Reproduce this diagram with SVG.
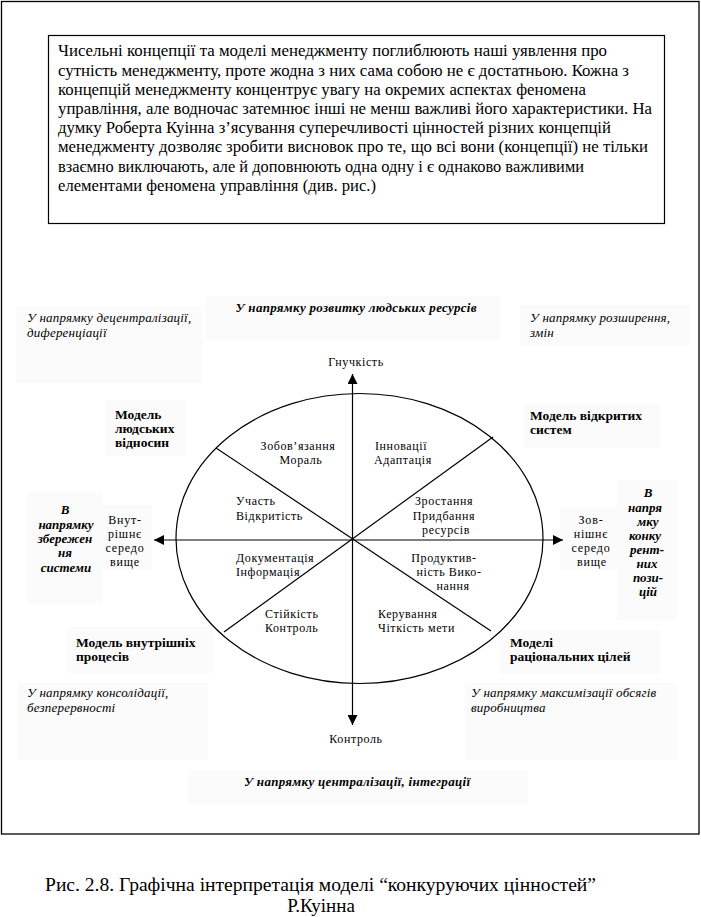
<svg xmlns="http://www.w3.org/2000/svg" width="701" height="917" viewBox="0 0 701 917">
<style>
  .body { font-family: "Liberation Serif", "DejaVu Serif", serif; font-size: 16px; fill: #000; }
  .lab { font-family: "Liberation Serif", "DejaVu Serif", serif; font-size: 12px; letter-spacing: 0.6px; fill: #000; }
  .side { font-family: "Liberation Serif", "DejaVu Serif", serif; font-size: 12px; letter-spacing: 0.8px; fill: #000; }
  .bold { font-family: "Liberation Serif", "DejaVu Serif", serif; font-size: 13.5px; font-weight: bold; fill: #000; }
  .it { font-family: "Liberation Serif", "DejaVu Serif", serif; font-size: 13px; font-style: italic; letter-spacing: 0.2px; fill: #000; }
  .bi { font-family: "Liberation Serif", "DejaVu Serif", serif; font-size: 13px; font-style: italic; font-weight: bold; fill: #000; }
  .cap { font-family: "Liberation Serif", "DejaVu Serif", serif; font-size: 19px; fill: #000; }
  .mid { text-anchor: middle; }
  .bg { fill: #fbfbfb; stroke: none; }
  .ln { stroke: #000; stroke-width: 1.2; fill: none; }
</style>
<defs>
  <marker id="arr" viewBox="0 0 10 10" refX="10" refY="5" markerWidth="10" markerHeight="10" markerUnits="userSpaceOnUse" orient="auto-start-reverse">
    <path d="M0,0 L10,5 L0,10 z" fill="#000"/>
  </marker>
</defs>
<rect x="0" y="0" width="701" height="917" fill="#fff"/>

<g id="background-panels">
  <rect class="bg" x="16" y="306" width="187" height="77"/>
  <rect class="bg" x="205" y="296" width="295" height="44"/>
  <rect class="bg" x="520" y="305" width="170" height="40"/>
  <rect class="bg" x="105" y="400" width="82" height="56"/>
  <rect class="bg" x="524" y="404" width="136" height="44"/>
  <rect class="bg" x="27" y="492" width="75" height="112"/>
  <rect class="bg" x="102" y="505" width="50" height="65"/>
  <rect class="bg" x="560" y="508" width="57" height="62"/>
  <rect class="bg" x="617" y="480" width="60" height="140"/>
  <rect class="bg" x="67" y="627" width="146" height="46"/>
  <rect class="bg" x="500" y="630" width="160" height="44"/>
  <rect class="bg" x="18" y="683" width="190" height="77"/>
  <rect class="bg" x="465" y="683" width="212" height="77"/>
  <rect class="bg" x="188" y="770" width="340" height="34"/>
</g>

<g id="frame">
  <rect x="1.5" y="1.5" width="697.5" height="832.5" fill="none" stroke="#000" stroke-width="1.3"/>
</g>

<g id="intro-box">
  <rect x="48.5" y="35.5" width="616" height="188" fill="#fff" stroke="#000" stroke-width="1.2"/>
  <text class="body" x="58" y="56" textLength="549" lengthAdjust="spacingAndGlyphs">Чисельні концепції та моделі менеджменту поглиблюють наші уявлення про</text>
  <text class="body" x="58" y="76" textLength="571" lengthAdjust="spacingAndGlyphs">сутність менеджменту, проте жодна з них сама собою не є достатньою. Кожна з</text>
  <text class="body" x="58" y="95" textLength="528" lengthAdjust="spacingAndGlyphs">концепцій менеджменту концентрує увагу на окремих аспектах феномена</text>
  <text class="body" x="58" y="114" textLength="594" lengthAdjust="spacingAndGlyphs">управління, але водночас затемнює інші не менш важливі його характеристики. На</text>
  <text class="body" x="58" y="133" textLength="553" lengthAdjust="spacingAndGlyphs">думку Роберта Куінна з’ясування суперечливості цінностей різних концепцій</text>
  <text class="body" x="58" y="152" textLength="590" lengthAdjust="spacingAndGlyphs">менеджменту дозволяє зробити висновок про те, що всі вони (концепції) не тільки</text>
  <text class="body" x="58" y="172" textLength="526" lengthAdjust="spacingAndGlyphs">взаємно виключають, але й доповнюють одна одну і є однаково важливими</text>
  <text class="body" x="58" y="191" textLength="318" lengthAdjust="spacingAndGlyphs">елементами феномена управління (див. рис.)</text>
</g>

<g id="model-ellipse">
  <ellipse class="ln" cx="359.5" cy="538.5" rx="183.5" ry="145"/>
  <line class="ln" x1="216" y1="448" x2="491" y2="631"/>
  <line class="ln" x1="493" y1="437" x2="224" y2="632"/>
</g>

<g id="connectors">
  <line class="ln" x1="352.5" y1="374" x2="352.5" y2="725" marker-start="url(#arr)" marker-end="url(#arr)"/>
  <line class="ln" x1="154" y1="540" x2="563" y2="540" marker-start="url(#arr)" marker-end="url(#arr)"/>
</g>

<g id="dir-human-resources">
  <text class="bi mid" x="356" y="312" textLength="241" lengthAdjust="spacing">У напрямку розвитку людських ресурсів</text>
</g>
<g id="dir-decentralization">
  <text class="it" x="27" y="322">У напрямку децентралізації,</text>
  <text class="it" x="27" y="337">диференціації</text>
</g>
<g id="dir-expansion">
  <text class="it" x="530" y="322">У напрямку розширення,</text>
  <text class="it" x="530" y="337">змін</text>
</g>
<g id="pole-flexibility">
  <text class="lab mid" x="356" y="366">Гнучкість</text>
</g>
<g id="model-human-relations">
  <text class="bold" x="115" y="419">Модель</text>
  <text class="bold" x="115" y="433">людських</text>
  <text class="bold" x="115" y="447">відносин</text>
</g>
<g id="model-open-systems">
  <text class="bold" x="530" y="420">Модель відкритих</text>
  <text class="bold" x="530" y="434">систем</text>
</g>
<g id="seg-commitment">
  <text class="lab mid" x="298" y="450">Зобов’язання</text>
  <text class="lab mid" x="301" y="464">Мораль</text>
</g>
<g id="seg-innovation">
  <text class="lab" x="375" y="450">Інновації</text>
  <text class="lab" x="374" y="464">Адаптація</text>
</g>
<g id="seg-participation">
  <text class="lab" x="236" y="505">Участь</text>
  <text class="lab" x="236" y="520">Відкритість</text>
</g>
<g id="seg-growth">
  <text class="lab mid" x="444" y="505">Зростання</text>
  <text class="lab mid" x="444" y="520">Придбання</text>
  <text class="lab mid" x="446" y="534">ресурсів</text>
</g>
<g id="seg-documentation">
  <text class="lab" x="236" y="562">Документація</text>
  <text class="lab" x="236" y="576">Інформація</text>
</g>
<g id="seg-productivity">
  <text class="lab mid" x="444" y="562">Продуктив-</text>
  <text class="lab mid" x="449" y="576">ність Вико-</text>
  <text class="lab mid" x="453" y="590">нання</text>
</g>
<g id="seg-stability">
  <text class="lab" x="265" y="618">Стійкість</text>
  <text class="lab" x="265" y="632">Контроль</text>
</g>
<g id="seg-direction">
  <text class="lab" x="378" y="618">Керування</text>
  <text class="lab" x="378" y="632">Чіткість мети</text>
</g>
<g id="dir-preservation">
  <text class="bi mid" x="65" y="514">В</text>
  <text class="bi mid" x="66" y="529">напрямку</text>
  <text class="bi mid" x="65" y="543">збережен</text>
  <text class="bi mid" x="65" y="557">ня</text>
  <text class="bi mid" x="66" y="572">системи</text>
</g>
<g id="env-internal">
  <text class="side mid" x="125" y="524">Внут-</text>
  <text class="side mid" x="125" y="538">рішнє</text>
  <text class="side mid" x="125" y="552">середо</text>
  <text class="side mid" x="125" y="566">вище</text>
</g>
<g id="env-external">
  <text class="side mid" x="591" y="524">Зов-</text>
  <text class="side mid" x="591" y="538">нішнє</text>
  <text class="side mid" x="591" y="552">середо</text>
  <text class="side mid" x="592" y="566">вище</text>
</g>
<g id="dir-competitive">
  <text class="bi mid" x="648" y="497">В</text>
  <text class="bi mid" x="645" y="512">напря</text>
  <text class="bi mid" x="648" y="526">мку</text>
  <text class="bi mid" x="645" y="540">конку</text>
  <text class="bi mid" x="647" y="554">рент-</text>
  <text class="bi mid" x="647" y="568">них</text>
  <text class="bi mid" x="648" y="582">пози-</text>
  <text class="bi mid" x="648" y="596">цій</text>
</g>
<g id="model-internal-process">
  <text class="bold" x="76" y="647">Модель внутрішніх</text>
  <text class="bold" x="76" y="661">процесів</text>
</g>
<g id="model-rational-goal">
  <text class="bold" x="510" y="647">Моделі</text>
  <text class="bold" x="510" y="661">раціональних цілей</text>
</g>
<g id="dir-consolidation">
  <text class="it" x="27" y="697">У напрямку консолідації,</text>
  <text class="it" x="27" y="712">безперервності</text>
</g>
<g id="dir-maximization">
  <text class="it" x="471" y="697">У напрямку максимізації обсягів</text>
  <text class="it" x="471" y="712">виробництва</text>
</g>
<g id="pole-control">
  <text class="lab mid" x="356" y="743">Контроль</text>
</g>
<g id="dir-centralization">
  <text class="bi mid" x="357" y="786" textLength="226" lengthAdjust="spacing">У напрямку централізації, інтеграції</text>
</g>

<g id="caption">
  <text class="cap" x="45" y="891" textLength="551" lengthAdjust="spacingAndGlyphs">Рис. 2.8. Графічна інтерпретація моделі “конкуруючих цінностей”</text>
  <text class="cap mid" x="321" y="912">Р.Куінна</text>
</g>
</svg>
